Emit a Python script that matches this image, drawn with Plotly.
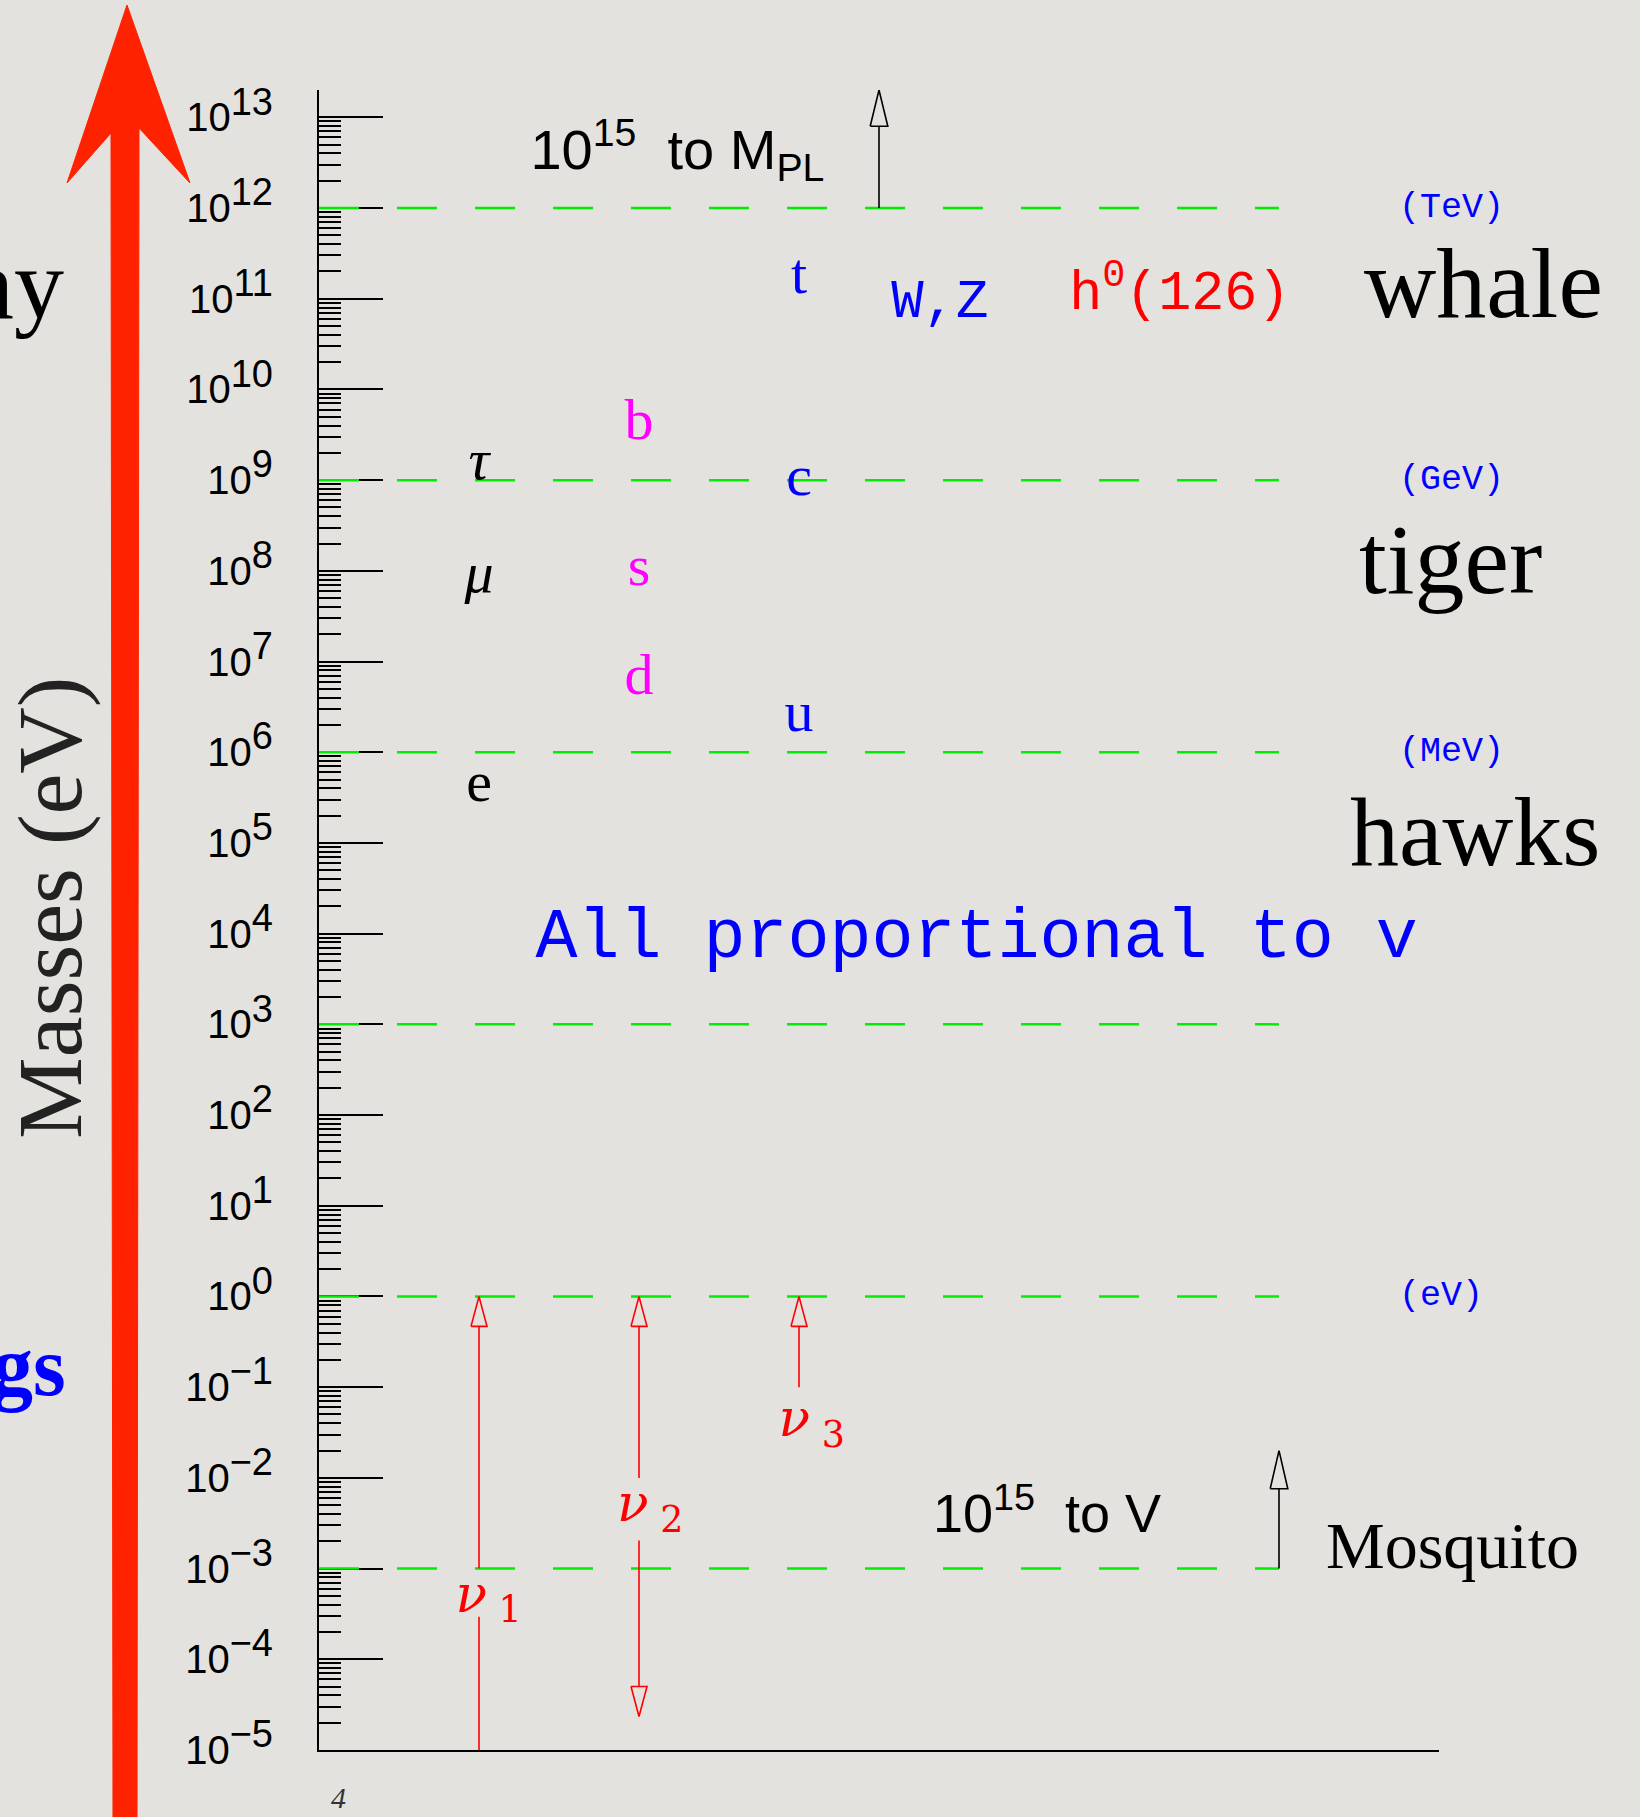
import math
import plotly.graph_objects as go

# ---------------- data ----------------
decades = list(range(-5, 14))
tick_text = ["10<sup><span style='font-size:38px'>%s</span></sup>" % (str(e).replace("-", "\u2212"))
             for e in decades]

lepton_names = ["<i>τ</i>", "<i>μ</i>", "e"]
lepton_x = [1, 1, 1]
lepton_mass = [1.5e9, 8.5e7, 4.2e5]

down_names = ["b", "s", "d"]
down_x = [2, 2, 2]
down_mass = [4.1e9, 1.0e8, 6.3e6]

up_names = ["t", "c", "u"]
up_x = [3, 3, 3]
up_mass = [1.66e11, 1.0e9, 2.5e6]

boson_names = ["W,Z"]
boson_x = [3.88]
boson_mass = [8.9e10]

higgs_names = ["h<sup>0</sup>(126)"]
higgs_x = [5.38]
higgs_mass = [1.1e11]

scale_levels = [1e12, 1e9, 1e6, 1e3, 1e0, 1e-3]
scale_end_x = 6.0

unit_names = ["(TeV)", "(GeV)", "(MeV)", "(eV)"]
unit_levels = [1e12, 1e9, 1e6, 1e0]
unit_x = 6.74

animal_names = ["whale", "tiger", "hawks", "Mosquito"]
animal_y = [10**11.17, 10**8.12, 10**5.12, 10**-2.75]
animal_x = [6.52, 6.49, 6.43, 6.28]
animal_size = [100, 100, 98, 66]

nu_names = ["<i>ν</i><sub> 1</sub>", "<i>ν</i><sub> 2</sub>", "<i>ν</i><sub> 3</sub>"]
nu_x = [1, 2, 3]
nu_top = [1e0, 1e0, 1e0]
nu_bottom = [1e-5, 10**-4.63, 1e-1]
nu_head_bottom = [False, True, False]
nu_label_x = [1.06, 2.07, 3.08]
nu_label_y = [10**-3.33, 10**-2.33, 10**-1.40]
nu_gap = [True, True, False]

planck_x = 3.5
planck_from = 1e12
planck_to = 2e13
planck_label = "10<sup>15</sup>  to M<sub>PL</sub>"
planck_label_x = 2.24
planck_label_y = 10**12.58

mosq_x = 6.0
mosq_from = 1e-3
mosq_to = 10**-1.7
mosq_label = "10<sup>15</sup>  to V"
mosq_label_x = 4.55
mosq_label_y = 10**-2.45

prop_label = "All proportional to v"
prop_x = 4.11
prop_y = 10**3.94

y_range = [-5, math.log10(2e13)]
x_range = [0, 7.0]

# ---------------- layout geometry ----------------
W, H = 1640, 1817
L, R, T, B = 319, 1439, 90, 1750
BG = "#e4e2de"
RED = "#ff0000"
BLUE = "#0000ff"
MAG = "#ff00ff"
GREEN = "#00ee00"

def px(x):
    return (x - L) / (R - L)

def py(y):
    return (B - y) / (B - T)

fig = go.Figure()

# green dashed scale lines
for lv in scale_levels:
    fig.add_trace(go.Scatter(x=[0, scale_end_x], y=[lv, lv], mode="lines",
                             line=dict(color=GREEN, width=2.5, dash="40px,38px"),
                             hoverinfo="skip", showlegend=False))

HW = 0.05

def head(x, tip, d, head_dec, half_w):
    base = 10 ** (math.log10(tip) - d * head_dec)
    return base, [x - half_w, x, x + half_w, x - half_w, None], [base, tip, base, base, None]

# neutrino arrows
for i in range(len(nu_x)):
    x = nu_x[i]
    lg = math.log10(nu_label_y[i])
    up_base, hx, hy = head(x, nu_top[i], 1, 0.33, HW)
    xs, ys = list(hx), list(hy)
    if nu_head_bottom[i]:
        lo_base, hx2, hy2 = head(x, nu_bottom[i], -1, 0.33, HW)
        xs += hx2
        ys += hy2
    else:
        lo_base = nu_bottom[i]
    if nu_gap[i]:
        g_hi = 10 ** (lg + 0.33)
        g_lo = 10 ** (lg - (0.2 if i == 0 else 0.36))
        xs += [x, x, None, x, x, None]
        ys += [up_base, g_hi, None, g_lo, lo_base, None]
    else:
        xs += [x, x, None]
        ys += [up_base, lo_base, None]
    fig.add_trace(go.Scatter(x=xs, y=ys, mode="lines", line=dict(color=RED, width=1.6),
                             hoverinfo="skip", showlegend=False, cliponaxis=False))

# black arrows (Planck, mosquito)
for (ax, a0, a1, hd) in [(planck_x, planck_from, planck_to, 0.40), (mosq_x, mosq_from, mosq_to, 0.42)]:
    base, hx, hy = head(ax, a1, 1, hd, 0.055)
    xs = [ax, ax, None] + hx
    ys = [a0, base, None] + hy
    fig.add_trace(go.Scatter(x=xs, y=ys, mode="lines", line=dict(color="black", width=1.6),
                             hoverinfo="skip", showlegend=False, cliponaxis=False))

def text_trace(x, y, txt, color, size, family):
    fig.add_trace(go.Scatter(x=x, y=y, text=txt, mode="text", textposition="middle center",
                             textfont=dict(color=color, size=size, family=family),
                             hoverinfo="skip", showlegend=False, cliponaxis=False))

SERIF = "Liberation Serif"
MONO = "Liberation Mono"
SANS = "Liberation Sans"

text_trace(lepton_x, lepton_mass, lepton_names, "black", 58, SERIF)
text_trace(down_x, down_mass, down_names, MAG, 58, SERIF)
text_trace(up_x, up_mass, up_names, BLUE, 58, SERIF)
text_trace(boson_x, boson_mass, boson_names, BLUE, 54, MONO)
text_trace(higgs_x, higgs_mass, higgs_names, RED, 55, MONO)
text_trace(nu_label_x, nu_label_y, nu_names, RED, 52, "DejaVu Serif")
text_trace([planck_label_x], [planck_label_y], [planck_label], "black", 56, SANS)
text_trace([mosq_label_x], [mosq_label_y], [mosq_label], "black", 54, SANS)
text_trace([prop_x], [prop_y], [prop_label], BLUE, 70, MONO)

annotations = []
for n, lv in zip(unit_names, unit_levels):
    annotations.append(dict(x=unit_x, y=math.log10(lv), xref="x", yref="y", text=n,
                            xanchor="left", yanchor="middle", showarrow=False,
                            font=dict(color=BLUE, size=35, family=MONO)))
for n, xx, yy, s in zip(animal_names, animal_x, animal_y, animal_size):
    annotations.append(dict(x=xx, y=math.log10(yy), xref="x", yref="y", text=n,
                            xanchor="left", yanchor="middle", showarrow=False,
                            font=dict(color="black", size=s, family=SERIF)))

# y-axis title
annotations.append(dict(x=px(50), y=py(908), xref="paper", yref="paper", text="Masses (eV)",
                        textangle=-90, showarrow=False, xanchor="center", yanchor="middle",
                        font=dict(color="#222", size=92, family=SERIF)))
# slide fragments (cut at the left edge as in the slide)
annotations.append(dict(x=px(66), y=py(284), xref="paper", yref="paper", text="ny",
                        showarrow=False, xanchor="right", yanchor="middle",
                        font=dict(color="black", size=100, family=SERIF)))
annotations.append(dict(x=px(68), y=py(1366), xref="paper", yref="paper", text="<b>gs</b>",
                        showarrow=False, xanchor="right", yanchor="middle",
                        font=dict(color=BLUE, size=84, family=SERIF)))
annotations.append(dict(x=px(338), y=py(1797), xref="paper", yref="paper", text="<i>4</i>",
                        showarrow=False, xanchor="center", yanchor="middle",
                        font=dict(color="#333", size=30, family=SERIF)))

# big hand drawn red arrow (decoration)
pts = [(127, 5), (190, 183), (139, 128), (137, 1817), (113, 1817), (111, 133), (67, 183)]
path = "M " + " L ".join("%f,%f" % (px(a), py(b)) for a, b in pts) + " Z"
shapes = [dict(type="path", xref="paper", yref="paper", path=path,
               fillcolor="#ff2200", line=dict(color="#ff2200", width=1), layer="above")]

fig.update_layout(
    width=W, height=H, autosize=False,
    margin=dict(l=L, r=W - R, t=T, b=H - B, pad=0),
    paper_bgcolor=BG, plot_bgcolor=BG,
    showlegend=False,
    annotations=annotations, shapes=shapes,
    xaxis=dict(range=x_range, showline=True, linecolor="black", linewidth=2,
               showgrid=False, zeroline=False, ticks="", showticklabels=False,
               fixedrange=True),
    yaxis=dict(type="log", range=y_range, showline=True, linecolor="black", linewidth=2,
               showgrid=False, zeroline=False, layer="below traces",
               tickmode="array", tickvals=[10.0 ** e for e in decades], ticktext=tick_text,
               ticks="inside", ticklen=64, tickwidth=2, tickcolor="black",
               ticklabelstandoff=36,
               tickfont=dict(family=SANS, size=40, color="black"),
               minor=dict(ticks="inside", ticklen=22, tickwidth=2, tickcolor="black",
                          dtick="D1", showgrid=False),
               fixedrange=True),
)

fig.write_html("out.html")
